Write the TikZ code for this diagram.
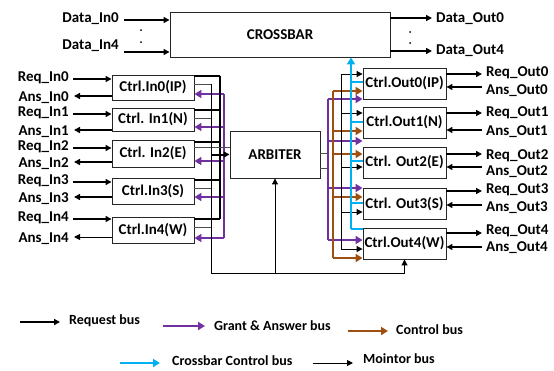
\documentclass[tikz,border=0pt]{standalone}
\usepackage{fontspec}
\setmainfont{Carlito}
\usetikzlibrary{arrows.meta,positioning,calc}
\definecolor{grantpurple}{RGB}{112,48,160}
\definecolor{ctrlbrown}{RGB}{158,80,18}
\definecolor{xbarcyan}{RGB}{0,176,240}
\newcommand{\lblfont}{\fontsize{15}{17}\selectfont\bfseries}

\begin{document}
\begin{tikzpicture}[x=1pt,y=-1pt,
  unit/.style   ={draw=black!85,line width=0.9pt,fill=white,inner sep=0pt,font=\lblfont},
  ctrlin/.style ={unit,minimum width=82pt},
  ctrlout/.style={unit,minimum width=83pt,minimum height=31pt},
  lbl/.style    ={inner sep=0pt,font=\lblfont},
  leg/.style    ={inner sep=0pt,anchor=west,font=\fontsize{14}{16}\selectfont\bfseries},
  req/.style    ={-{Triangle[length=6pt,width=6pt]},line width=1.4pt},
  mon/.style    ={-{Triangle[length=6pt,width=6pt]},line width=1pt},
  wire/.style   ={line width=0.8pt,draw=black!70},
  grant/.style  ={-{Triangle[length=7pt,width=8pt]},line width=2.6pt,draw=grantpurple,fill=grantpurple},
  ctrl/.style   ={-{Triangle[length=7pt,width=8pt]},line width=2.2pt,draw=ctrlbrown,fill=ctrlbrown},
  xbar/.style   ={line width=2.2pt,draw=xbarcyan},
]
\useasboundingbox (0,0) rectangle (554,370);

% crossbar and arbiter
\node[unit,minimum width=220pt,minimum height=45pt] (cross) at (280,34.5) {CROSSBAR};
\node[unit,minimum width=90pt,minimum height=47pt]  (arb)   at (275,154.5) {ARBITER};

% data ports
\node[lbl,anchor=east] (din0) at (119,19) {Data\_In0};
\node[lbl,anchor=east] (din4) at (119,46) {Data\_In4};
\coordinate (pdin0) at (124,20);
\coordinate (pdin4) at (124,52);
\draw[req] (pdin0) -- (pdin0 -| cross.west);
\draw[req] (pdin4) -- (pdin4 -| cross.west);
\fill (141,30) circle (1pt) (141,42) circle (1pt);
\coordinate (pdout0) at (432,18);
\coordinate (pdout4) at (432,51);
\draw[req] (pdout0 -| cross.east) -- (pdout0);
\draw[req] (pdout4 -| cross.east) -- (pdout4);
\fill (410,32) circle (1pt) (410,43) circle (1pt);
\node[lbl,anchor=west] (dout0) at (436,19) {Data\_Out0};
\node[lbl,anchor=west] (dout4) at (436,51) {Data\_Out4};

% bus columns
\coordinate (monx) at (211,0);
\coordinate (reqx) at (220,0);
\coordinate (grx)  at (224,0);
\coordinate (mon)  at (211,273);

% input controllers
\foreach \i/\txt/\cy/\h in {0/Ctrl.In0(IP)/87.5/25, 1/Ctrl. In1(N)/119.5/23,
    2/Ctrl. In2(E)/153.5/27, 3/Ctrl.In3(S)/191/26, 4/Ctrl.In4(W)/230/26}
  \node[ctrlin,minimum height=\h pt] (in\i) at (153,\cy) {\txt};

\foreach \i/\ry/\ay/\aw/\by/\my/\py in {0/79/96/2/76/84/94, 1/114/130/2/110/118/127,
    2/148/162/2/142/147/161, 3/182/197/2/180/188/197, 4/219/237/0.9/219/227/238}{
  \coordinate (reqin\i) at (73,\ry);
  \coordinate (ansin\i) at (74,\ay);
  \draw[req] (reqin\i) -- (reqin\i -| in\i.west);
  \draw[req,line width=\aw pt] (ansin\i -| in\i.west) -- (ansin\i);
  \node[lbl,anchor=east] (lreqin\i) at (69,\ry-1) {Req\_In\i};
  \node[lbl,anchor=east] (lansin\i) at (69,\ay+2) {Ans\_In\i};
  \draw[line width=1.4pt] (in\i.east |- 0,\by) -- (reqx |- 0,\by);
  \draw[wire] (in\i.east |- 0,\my) -- (monx |- 0,\my);
  \draw[grant] (grx |- 0,\py) -- (in\i.east |- 0,\py);
}
\draw[line width=1.4pt] (reqx |- 0,76) -- (reqx |- 0,219);
\draw[line width=2.6pt,grantpurple] (grx |- 0,94) -- (grx |- 0,238);
\draw[wire] (in2.east |- 0,147) -- (arb.west |- 0,147);
\draw[req,line width=2pt] (monx |- arb.west) -- (arb.west);

% output controllers
\foreach \i/\txt/\cy in {0/Ctrl.Out0(IP)/83.5, 1/Ctrl.Out1(N)/122.5,
    2/Ctrl. Out2(E)/162.5, 3/Ctrl. Out3(S)/204, 4/Ctrl.Out4(W)/243.5}
  \node[ctrlout] (out\i) at (404.5,\cy) {\txt};

\coordinate (grox) at (328,0);
\coordinate (cbx)  at (333,0);
\coordinate (rqox) at (341,0);
\coordinate (cyx)  at (351,0);

\foreach \i/\ry/\ay/\ly/\my/\ky/\cy in {0/74/87/73/91/74/82, 1/113/130/113/132/113/122,
    2/154/167/156/172/167/161, 3/191/205/190/208/212/203, 4/233/247/231/248/249/229}{
  \coordinate (reqout\i) at (482,\ry);
  \coordinate (ansout\i) at (482,\ay);
  \draw[req] (reqout\i -| out\i.east) -- (reqout\i);
  \draw[req] (ansout\i) -- (ansout\i -| out\i.east);
  \node[lbl,anchor=west] (lreqout\i) at (486,\ly) {Req\_Out\i};
  \node[lbl,anchor=west] (lansout\i) at (486,\my) {Ans\_Out\i};
  \draw[req,line width=1pt] (rqox |- 0,\ky) -- (out\i.west |- 0,\ky);
  \draw[xbar] (cyx |- 0,\cy) -- (out\i.west |- 0,\cy);
}
\foreach \y in {91,131,154,197,258}
  \draw[ctrl] (cbx |- 0,\y) -- (out0.west |- 0,\y);
\foreach \y in {99,141,188,240}
  \draw[grant] (grox |- 0,\y) -- (out0.west |- 0,\y);
\draw[line width=2.2pt,ctrlbrown] (cbx |- 0,91) -- (cbx |- 0,258);
\draw[line width=2.6pt,grantpurple] (grox |- 0,99) -- (grox |- 0,240);
\draw[line width=1pt] (rqox |- 0,74) -- (rqox |- 0,249);
\draw[xbar,-{Triangle[length=7pt,width=8pt]}] (cyx |- 0,229) -- (cyx |- cross.south);
\draw[wire] (arb.east |- 0,153) -- (grox |- 0,153);
\draw[wire] (arb.east |- 0,168) -- (grox |- 0,168);

% monitor bus
\draw[line width=1pt] (monx |- 0,84) -- (mon) -- (mon -| out4.south);
\draw[mon] (mon -| out4.south) -- (out4.south);
\draw[mon] (mon -| arb.south) -- (arb.south);

% legend
\coordinate (lg1a) at (20,322);  \coordinate (lg1b) at (60,322);
\coordinate (lg2a) at (163,326); \coordinate (lg2b) at (205,326);
\coordinate (lg3a) at (348,331); \coordinate (lg3b) at (388,331);
\coordinate (lg4a) at (120,363); \coordinate (lg4b) at (160,363);
\coordinate (lg5a) at (313,363); \coordinate (lg5b) at (353,363);
\draw[req,line width=2.6pt] (lg1a) -- (lg1b);
\draw[grant] (lg2a) -- (lg2b);
\draw[ctrl] (lg3a) -- (lg3b);
\draw[xbar,-{Triangle[length=7pt,width=8pt]}] (lg4a) -- (lg4b);
\draw[mon] (lg5a) -- (lg5b);
\node[leg] (treq)  at (69,321)  {Request bus};
\node[leg] (tgnt)  at (214,326) {Grant \& Answer bus};
\node[leg] (tctl)  at (396,330) {Control bus};
\node[leg] (txbar) at (172,361) {Crossbar Control bus};
\node[leg] (tmon)  at (363,359) {Mointor bus};
\end{tikzpicture}
\end{document}
